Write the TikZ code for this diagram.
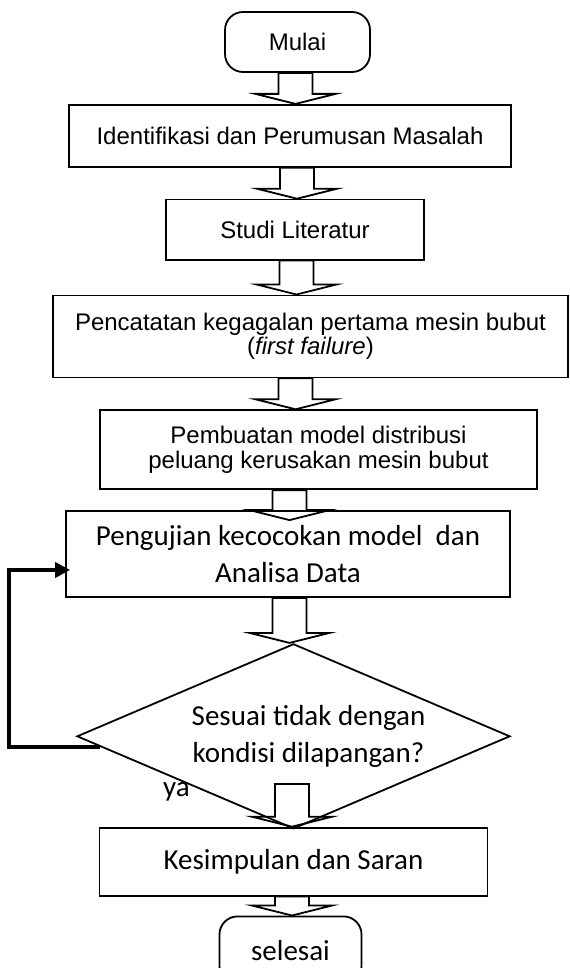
\documentclass[tikz,border=0pt]{standalone}
\usepackage{fontspec}
\usepackage{tikz}
\usetikzlibrary{arrows.meta,positioning,calc,shapes.geometric}
\newfontfamily\arialf{Liberation Sans}
\newfontfamily\calibrif{Carlito}

\begin{document}
\begin{tikzpicture}[>=Stealth, line width=0.9pt]
% styles
\tikzstyle{kotak}=[rectangle,draw,inner sep=0pt,align=center,font=\arialf\fontsize{12}{12.2}\selectfont]
\tikzstyle{kotakc}=[kotak,font=\calibrif\fontsize{14.5}{18.5}\selectfont]
\tikzstyle{terminal}=[kotak,rounded corners=9pt]
\tikzstyle{keputusan}=[diamond,draw,inner sep=0pt,minimum width=216.5pt,minimum height=92.5pt]
\tikzstyle{panah}=[draw,line join=miter]
\tikzstyle{balik}=[line width=2pt,-{Triangle[length=7.5pt,width=7.5pt]},shorten >=-2.5pt]

% frame
\path[use as bounding box] (0,0) rectangle (284.5pt,-484pt);
\clip (0,0) rectangle (284.5pt,-484pt);

% steps
\node[terminal,minimum width=72.5pt,minimum height=30pt] (mulai) at (148.75pt,-21pt) {Mulai};
\node[kotak,minimum width=221pt,minimum height=31pt,below=15.5pt of mulai,xshift=-3.75pt] (idn) {Identifikasi dan Perumusan Masalah};
\node[kotak,minimum width=129pt,minimum height=30pt,below=15.5pt of idn,xshift=2.5pt] (studi) {Studi Literatur};
\node[kotak,minimum width=257.5pt,minimum height=41pt,below=17pt of studi,xshift=7.75pt,
  font=\arialf\fontsize{12}{10}\selectfont] (catat) {Pencatatan kegagalan pertama mesin bubut\\(\textit{first failure})};
\node[kotak,minimum width=218.5pt,minimum height=39.5pt,below=15.5pt of catat,xshift=4pt] (model) {Pembuatan model distribusi\\peluang kerusakan mesin bubut};
\node[kotakc,minimum width=222pt,minimum height=43pt,below=10pt of model,xshift=-15.25pt] (uji) {Pengujian kecocokan model\ \ dan\\Analisa Data};

% decision
\node[keputusan,below=22.5pt of uji,xshift=2.75pt] (cek) {};
\node[font=\calibrif\fontsize{14.5}{18.5}\selectfont,align=center] (tanya) at ([xshift=7.5pt]cek.center) {Sesuai tidak dengan\\kondisi dilapangan?};

% end
\node[kotakc,minimum width=194pt,minimum height=34pt,below=-1.5pt of cek] (kes) {Kesimpulan dan Saran};
\node[terminal,font=\calibrif\fontsize{14.5}{18.5}\selectfont,minimum width=71pt,minimum height=34pt,below=9.5pt of kes,xshift=-1.5pt] (selesai) {selesai};

\coordinate (ya0) at (146pt,-392pt);
\node[font=\calibrif\fontsize{14.5}{18.5}\selectfont,anchor=base] (ya) at (88.25pt,-398pt) {ya};

% hollow arrows
\foreach \dari/\ke/\cx/\dy in {mulai.south/idn.north/147.75/0, idn.south/studi.north/148.5/0,
    studi.south/catat.north/148.25/0, catat.south/model.north/147.75/0,
    model.south/uji.north/144.75/5, uji.south/cek.north/144.75/0,
    ya0/kes.north/146/0, kes.south/selesai.north/146/0}
  \draw[panah] let \p1=(\dari), \p2=(\ke) in
    ({\cx pt-8.5pt},\y1) -- ({\cx pt-8.5pt},{\y2-\dy pt+5pt}) -- ({\cx pt-20pt},{\y2-\dy pt+5pt})
    -- (\cx pt,{\y2-\dy pt}) -- ({\cx pt+20pt},{\y2-\dy pt+5pt}) -- ({\cx pt+8.5pt},{\y2-\dy pt+5pt})
    -- ({\cx pt+8.5pt},\y1) -- cycle;

% back to testing
\coordinate (cekkiri) at ($(cek.west)!0.11!(cek.south)$);
\draw[balik] (cekkiri) -- ++(-45.4pt,0) |- ([yshift=-8pt]uji.west);

\end{tikzpicture}
\end{document}
